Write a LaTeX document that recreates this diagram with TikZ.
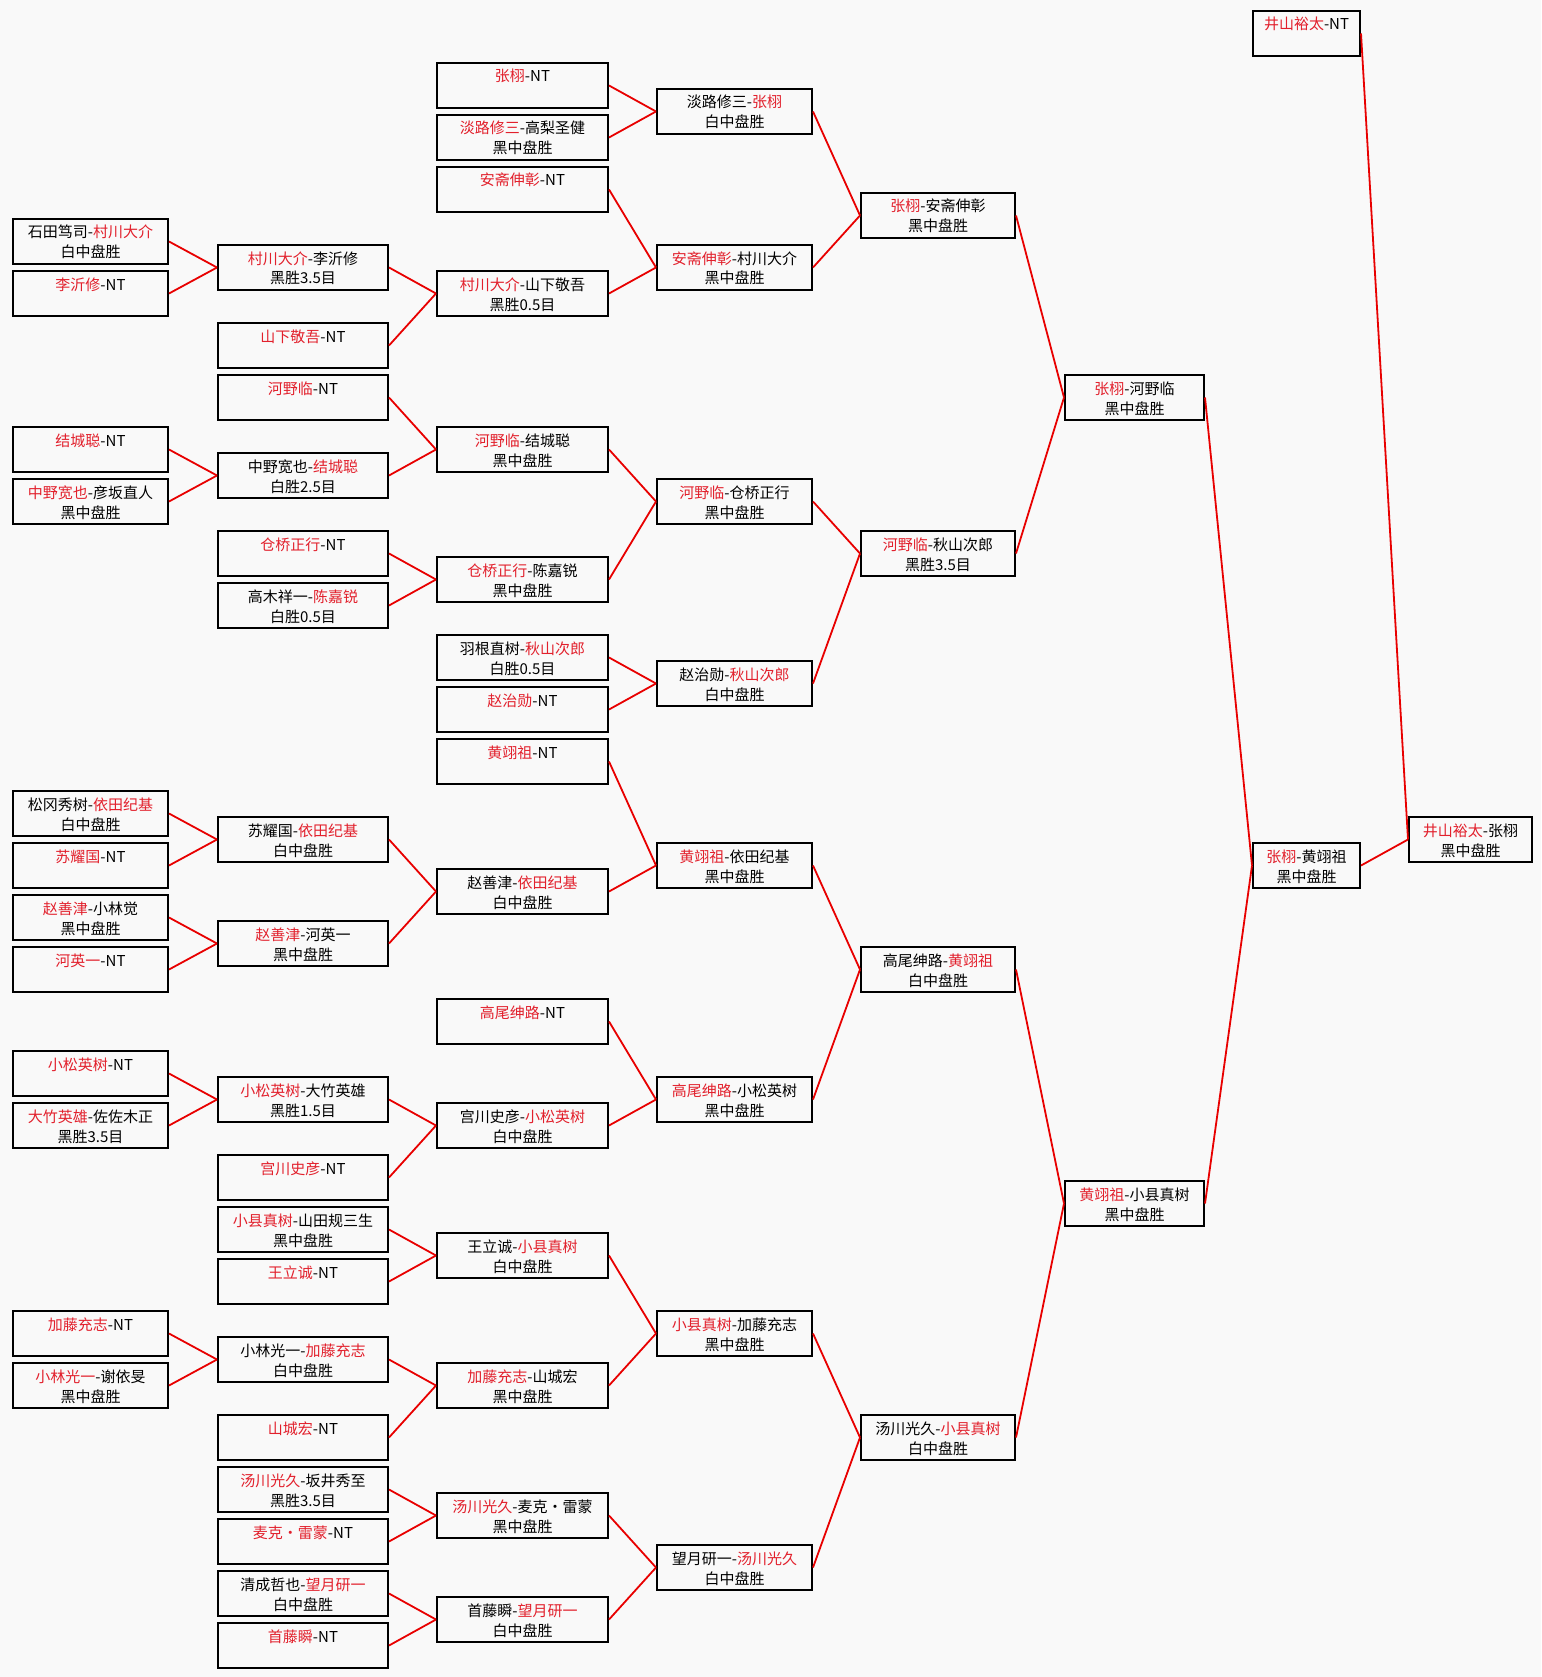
\documentclass[tikz,border=0pt]{standalone}
\usepackage{fontspec}
\newfontfamily\cjk{Noto Sans CJK SC}
\definecolor{tr}{RGB}{226,32,44}
\definecolor{lr}{RGB}{232,0,0}
\definecolor{bgc}{RGB}{249,249,249}
\newcommand\R[1]{\textcolor{tr}{#1}}
% two-line box: name, x, row, width, line1, line2
\newcommand\bx[6]{\node[box] (#1) at (#2,{62+26*(#3)}) {\parbox[c][45pt][t]{#4pt}{\centering\rule{0pt}{19pt}#5\\#6}};}
% NT box: name, x, row, width, player
\newcommand\nt[5]{\node[box] (#1) at (#2,{62+26*(#3)}) {\parbox[c][45pt][t]{#4pt}{\centering\rule{0pt}{19pt}\R{#5}-NT}};}
\tikzset{
  box/.style={draw=black, line width=2pt, inner sep=0pt, anchor=north west, font=\cjk\fontsize{15}{20}\selectfont},
  conn/.style={draw=lr, line width=1.8pt}
}
\begin{document}
\begin{tikzpicture}[x=1pt,y=-1pt]
\useasboundingbox (0,0) rectangle (1541,1677);
\fill[bgc] (0,0) rectangle (1541,1677);
% column 1
\bx{a1}{12}{6}{155}{石田笃司-\R{村川大介}}{白中盘胜}
\nt{a2}{12}{8}{155}{李沂修}
\nt{a3}{12}{14}{155}{结城聪}
\bx{a4}{12}{16}{155}{\R{中野宽也}-彦坂直人}{黑中盘胜}
\bx{a5}{12}{28}{155}{松冈秀树-\R{依田纪基}}{白中盘胜}
\nt{a6}{12}{30}{155}{苏耀国}
\bx{a7}{12}{32}{155}{\R{赵善津}-小林觉}{黑中盘胜}
\nt{a8}{12}{34}{155}{河英一}
\nt{a9}{12}{38}{155}{小松英树}
\bx{a10}{12}{40}{155}{\R{大竹英雄}-佐佐木正}{黑胜3.5目}
\nt{a11}{12}{48}{155}{加藤充志}
\bx{a12}{12}{50}{155}{\R{小林光一}-谢依旻}{黑中盘胜}
% column 2
\bx{b1}{217}{7}{170}{\R{村川大介}-李沂修}{黑胜3.5目}
\nt{b2}{217}{10}{170}{山下敬吾}
\nt{b3}{217}{12}{170}{河野临}
\bx{b4}{217}{15}{170}{中野宽也-\R{结城聪}}{白胜2.5目}
\nt{b5}{217}{18}{170}{仓桥正行}
\bx{b6}{217}{20}{170}{高木祥一-\R{陈嘉锐}}{白胜0.5目}
\bx{b7}{217}{29}{170}{苏耀国-\R{依田纪基}}{白中盘胜}
\bx{b8}{217}{33}{170}{\R{赵善津}-河英一}{黑中盘胜}
\bx{b9}{217}{39}{170}{\R{小松英树}-大竹英雄}{黑胜1.5目}
\nt{b10}{217}{42}{170}{宫川史彦}
\bx{b11}{217}{44}{170}{\R{小县真树}-山田规三生}{黑中盘胜}
\nt{b12}{217}{46}{170}{王立诚}
\bx{b13}{217}{49}{170}{小林光一-\R{加藤充志}}{白中盘胜}
\nt{b14}{217}{52}{170}{山城宏}
\bx{b15}{217}{54}{170}{\R{汤川光久}-坂井秀至}{黑胜3.5目}
\nt{b16}{217}{56}{170}{麦克・雷蒙}
\bx{b17}{217}{58}{170}{清成哲也-\R{望月研一}}{白中盘胜}
\nt{b18}{217}{60}{170}{首藤瞬}
% column 3
\nt{c1}{436}{0}{171}{张栩}
\bx{c2}{436}{2}{171}{\R{淡路修三}-高梨圣健}{黑中盘胜}
\nt{c3}{436}{4}{171}{安斋伸彰}
\bx{c4}{436}{8}{171}{\R{村川大介}-山下敬吾}{黑胜0.5目}
\bx{c5}{436}{14}{171}{\R{河野临}-结城聪}{黑中盘胜}
\bx{c6}{436}{19}{171}{\R{仓桥正行}-陈嘉锐}{黑中盘胜}
\bx{c7}{436}{22}{171}{羽根直树-\R{秋山次郎}}{白胜0.5目}
\nt{c8}{436}{24}{171}{赵治勋}
\nt{c9}{436}{26}{171}{黄翊祖}
\bx{c10}{436}{31}{171}{赵善津-\R{依田纪基}}{白中盘胜}
\nt{c11}{436}{36}{171}{高尾绅路}
\bx{c12}{436}{40}{171}{宫川史彦-\R{小松英树}}{白中盘胜}
\bx{c13}{436}{45}{171}{王立诚-\R{小县真树}}{白中盘胜}
\bx{c14}{436}{50}{171}{\R{加藤充志}-山城宏}{黑中盘胜}
\bx{c15}{436}{55}{171}{\R{汤川光久}-麦克・雷蒙}{黑中盘胜}
\bx{c16}{436}{59}{171}{首藤瞬-\R{望月研一}}{白中盘胜}
% column 4
\bx{d1}{656}{1}{155}{淡路修三-\R{张栩}}{白中盘胜}
\bx{d2}{656}{7}{155}{\R{安斋伸彰}-村川大介}{黑中盘胜}
\bx{d3}{656}{16}{155}{\R{河野临}-仓桥正行}{黑中盘胜}
\bx{d4}{656}{23}{155}{赵治勋-\R{秋山次郎}}{白中盘胜}
\bx{d5}{656}{30}{155}{\R{黄翊祖}-依田纪基}{黑中盘胜}
\bx{d6}{656}{39}{155}{\R{高尾绅路}-小松英树}{黑中盘胜}
\bx{d7}{656}{48}{155}{\R{小县真树}-加藤充志}{黑中盘胜}
\bx{d8}{656}{57}{155}{望月研一-\R{汤川光久}}{白中盘胜}
% column 5
\bx{e1}{860}{5}{154}{\R{张栩}-安斋伸彰}{黑中盘胜}
\bx{e2}{860}{18}{154}{\R{河野临}-秋山次郎}{黑胜3.5目}
\bx{e3}{860}{34}{154}{高尾绅路-\R{黄翊祖}}{白中盘胜}
\bx{e4}{860}{52}{154}{汤川光久-\R{小县真树}}{白中盘胜}
% column 6
\bx{f1}{1064}{12}{139}{\R{张栩}-河野临}{黑中盘胜}
\bx{f2}{1064}{43}{139}{\R{黄翊祖}-小县真树}{黑中盘胜}
% column 7
\nt{g0}{1252}{-2}{107}{井山裕太}
\bx{g1}{1252}{30}{107}{\R{张栩}-黄翊祖}{黑中盘胜}
% column 8
\bx{h1}{1408}{29}{123}{\R{井山裕太}-张栩}{黑中盘胜}
% connectors
\foreach \u/\v in {a1/b1,a2/b1,a3/b4,a4/b4,a5/b7,a6/b7,a7/b8,a8/b8,a9/b9,a10/b9,a11/b13,a12/b13,
  b1/c4,b2/c4,b3/c5,b4/c5,b5/c6,b6/c6,b7/c10,b8/c10,b9/c12,b10/c12,b11/c13,b12/c13,b13/c14,b14/c14,b15/c15,b16/c15,b17/c16,b18/c16,
  c1/d1,c2/d1,c3/d2,c4/d2,c5/d3,c6/d3,c7/d4,c8/d4,c9/d5,c10/d5,c11/d6,c12/d6,c13/d7,c14/d7,c15/d8,c16/d8,
  d1/e1,d2/e1,d3/e2,d4/e2,d5/e3,d6/e3,d7/e4,d8/e4,
  e1/f1,e2/f1,e3/f2,e4/f2,f1/g1,f2/g1,g0/h1,g1/h1}
  \draw[conn] (\u.east) -- (\v.west);
\end{tikzpicture}
\end{document}
